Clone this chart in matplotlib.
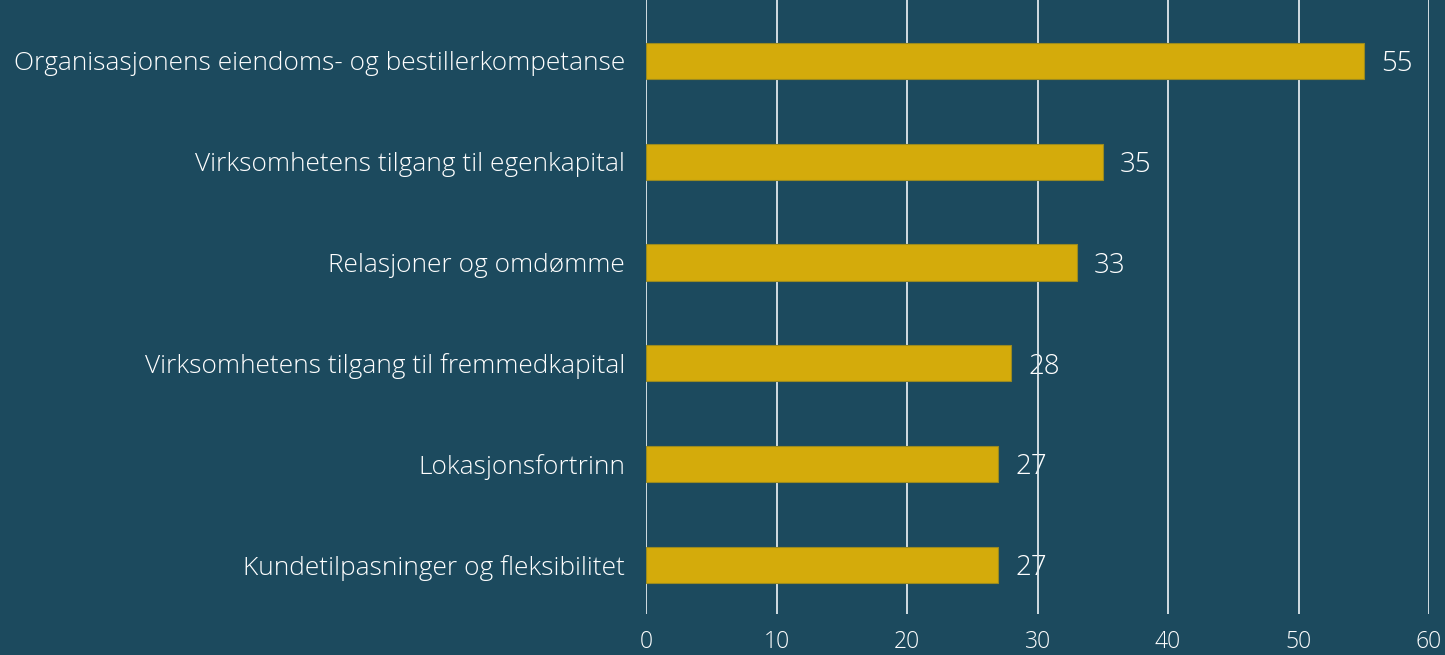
import matplotlib.pyplot as plt

# --- data ---
kategorier = [
    "Organisasjonens eiendoms- og bestillerkompetanse",
    "Virksomhetens tilgang til egenkapital",
    "Relasjoner og omdømme",
    "Virksomhetens tilgang til fremmedkapital",
    "Lokasjonsfortrinn",
    "Kundetilpasninger og fleksibilitet",
]
verdier = [55, 35, 33, 28, 27, 27]
x_ticks = [0, 10, 20, 30, 40, 50, 60]

bakgrunn = "#1c4a5e"
gul = "#d4ab0b"

plt.rcParams['font.family'] = ['Open Sans', 'DejaVu Sans']
plt.rcParams['font.weight'] = 'light'

fig = plt.figure(figsize=(14.45, 6.55), dpi=100, facecolor=bakgrunn)
ax = fig.add_axes([646 / 1445, 41 / 655, 783 / 1445, 614 / 655])
ax.set_facecolor(bakgrunn)

pos = list(range(len(kategorier)))
ax.barh(pos, verdier, height=0.36, color=gul, edgecolor="#9a8a20", linewidth=0.8, zorder=2)

# gridlines behind bars, over value labels
for t in x_ticks:
    ax.axvline(t, color="#dfe8ec", linewidth=1.3, zorder=1.5)

for p, v in zip(pos, verdier):
    ax.text(v + 1.3, p, str(v), color="white", fontsize=20, va="center_baseline",
            ha="left", zorder=1)

ax.set_xlim(0, 60)
ax.set_ylim(5.49, -0.605)
ax.set_yticks(pos)
ax.set_yticklabels(kategorier, color="white", fontsize=18.9)
ax.set_xticks(x_ticks)
ax.set_xticklabels([str(t) for t in x_ticks], color="white", fontsize=16.5)
ax.tick_params(axis='y', length=0, pad=15)
ax.tick_params(axis='x', length=0, pad=11.5)
for s in ax.spines.values():
    s.set_visible(False)

fig.savefig("out.png", dpi=100, facecolor=bakgrunn)
